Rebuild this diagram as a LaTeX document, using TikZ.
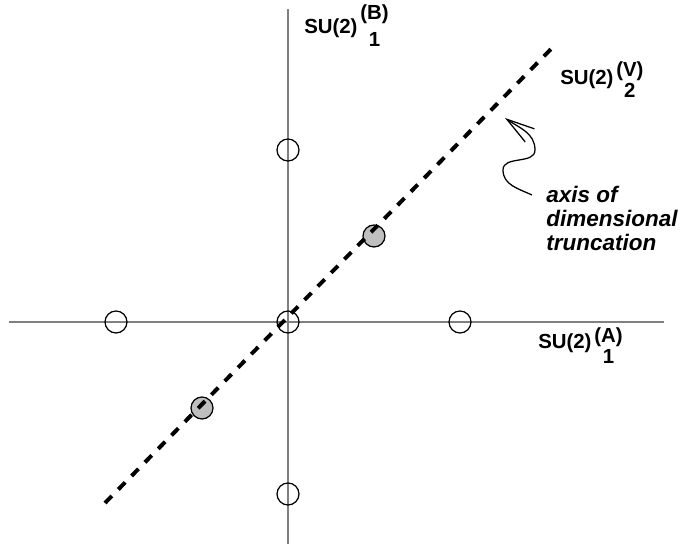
\documentclass[tikz,border=0pt]{standalone}
\usepackage{fontspec}
\setmainfont{Liberation Sans}
\usetikzlibrary{arrows.meta}
\newsavebox\supbox
\newcommand{\sulab}[4]{\sbox\supbox{(#1)}SU(2)\hspace{2pt}\rlap{\raisebox{#3}{\usebox\supbox}}\makebox[\wd\supbox]{\raisebox{-#4}{#2}}}
\tikzset{
  axis/.style={line width=1pt, black!50},
  state/.style={circle, draw, line width=0.9pt, minimum size=0.55cm, inner sep=0pt},
  kept/.style={state, fill=black!25},
  trunc/.style={line width=2.8pt, dash pattern=on 7pt off 6.5pt},
  lab/.style={font=\fontsize{14.5}{17}\selectfont\bfseries, inner sep=0pt}
}
\begin{document}
\begin{tikzpicture}
  \useasboundingbox (-7.2,-5.55) rectangle (10.0,8.05);
  \draw[axis] (-6.975,0) -- (9.4,0);
  \draw[axis] (0,-5.55) -- (0,7.825);
  \node[state] (o) at (0,0) {};
  \node[state] (up) at (90:4.3) {};
  \node[state] (down) at (270:4.3) {};
  \node[state] (left) at (180:4.3) {};
  \node[state] (right) at (0:4.3) {};
  \node[kept] (p) at (2.15,2.15) {};
  \node[kept] (m) at (-2.15,-2.15) {};
  \coordinate (lo) at (-4.575,-4.525);
  \coordinate (hi) at (6.6,6.85);
  \draw[trunc] (lo) -- (hi);
  \node[lab, anchor=base west] (b) at (0.4,7.2) {\sulab{B}{1}{10pt}{9pt}};
  \node[lab, anchor=base west] (a) at (6.25,-0.66) {\sulab{A}{1}{4.3pt}{10.7pt}};
  \node[lab, anchor=base west] (v) at (6.8,5.925) {\sulab{V}{2}{5.7pt}{9.2pt}};
  \node[lab, anchor=base west, align=left, font=\fontsize{16}{17}\selectfont\bfseries\itshape]
    (txt) at (6.45,1.78) {axis of\\dimensional\\truncation};
  \coordinate (wv) at (6.1,3.175);
  \coordinate (tip) at (5.425,5.1);
  \draw[line width=0.9pt, -{Straight Barb[length=7mm, width=4mm]}]
    (wv) to[out=155, in=-90] (5.375,3.8) to[out=90, in=-90] (6.175,4.3) to[out=90, in=-35] (tip);
\end{tikzpicture}
\end{document}
